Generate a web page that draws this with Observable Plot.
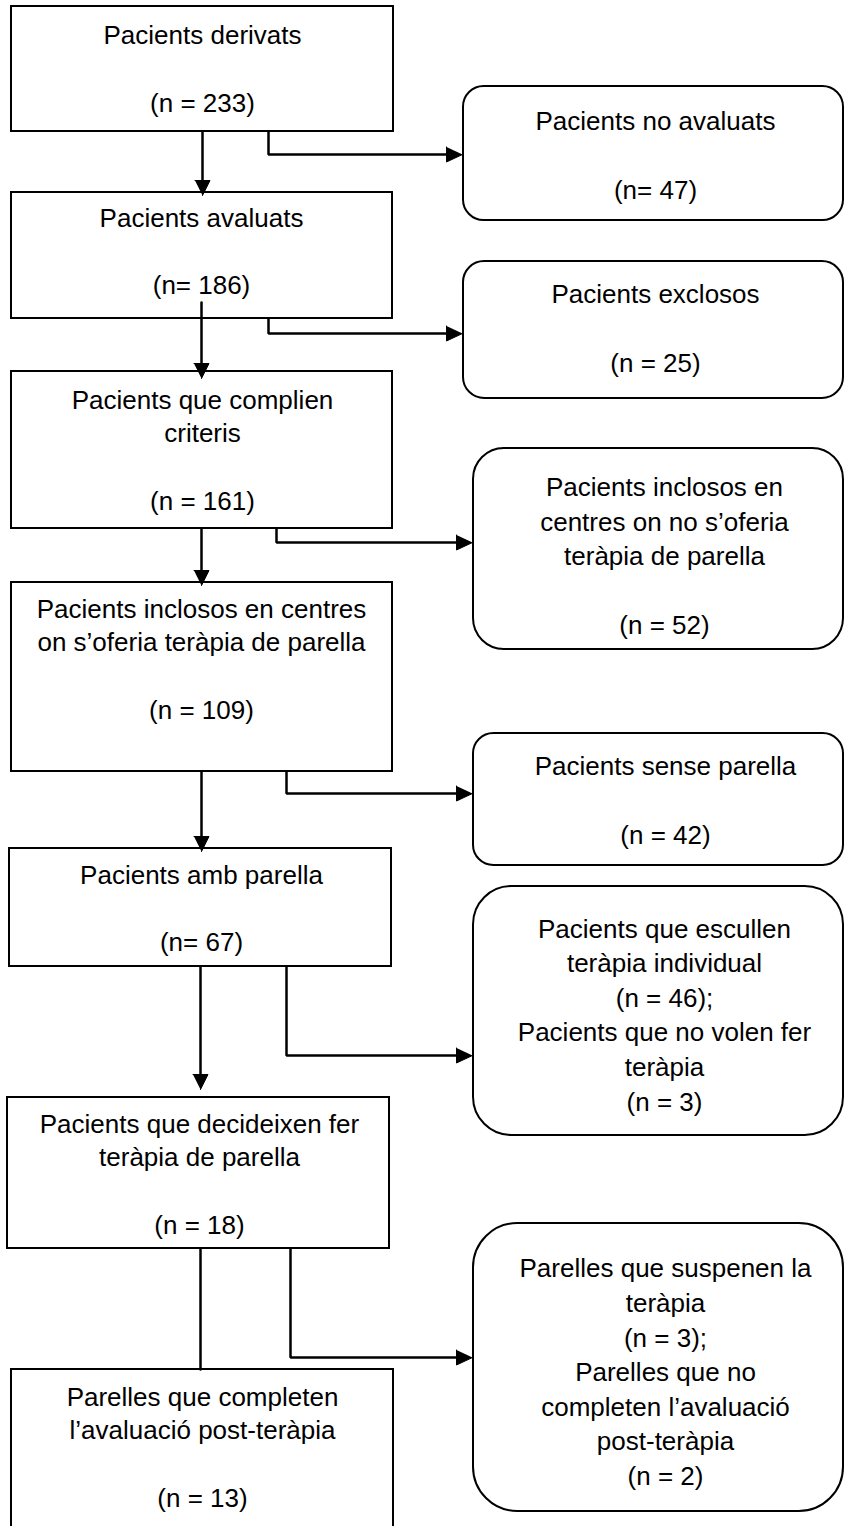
<!DOCTYPE html>
<html>
<head>
<meta charset="utf-8">
<script src="https://cdn.jsdelivr.net/npm/d3@7"></script>
<script src="https://cdn.jsdelivr.net/npm/@observablehq/plot@0.6"></script>
<style>
  html, body { margin: 0; padding: 0; background: #fff; }
  #chart svg { display: block; }
</style>
</head>
<body>
<div id="chart"></div>
<script>
// ---- Data: flow stages (left column) ----
const stageLabels = [
  "Pacients derivats",
  "Pacients avaluats",
  "Pacients que complien\ncriteris",
  "Pacients inclosos en centres\non s’oferia teràpia de parella",
  "Pacients amb parella",
  "Pacients que decideixen fer\nteràpia de parella",
  "Parelles que completen\nl’avaluació post-teràpia"
];
const stageN = [233, 186, 161, 109, 67, 18, 13];
const stageNPrefix = ["n = ", "n= ", "n = ", "n = ", "n= ", "n = ", "n = "];

// ---- Data: exclusions (right column) ----
const exclusionLabels = [
  "Pacients no avaluats\n\n(n= 47)",
  "Pacients exclosos\n\n(n = 25)",
  "Pacients inclosos en\ncentres on no s’oferia\nteràpia de parella\n\n(n = 52)",
  "Pacients sense parella\n\n(n = 42)",
  "Pacients que escullen\nteràpia individual\n(n = 46);\nPacients que no volen fer\nteràpia\n(n = 3)",
  "Parelles que suspenen la\nteràpia\n(n = 3);\nParelles que no\ncompleten l’avaluació\npost-teràpia\n(n = 2)"
];
const exclusionN = [47, 25, 52, 42, 49, 5];

// ---- Layout of the diagram (diagram units) ----
const stageX1 = [11, 11, 11, 11, 9, 7, 11];
const stageX2 = [393, 392, 392, 392, 391, 389, 393];
const stageY1 = [6, 192, 371, 582, 848, 1097, 1369];
const stageY2 = [131, 318, 528, 771, 966, 1248, 1545];
const stageTextX = [202, 201, 202, 201, 201, 199, 202];
const stageTextY = [66.5, 249, 448, 657, 906, 1172, 1445];

const exclX1 = [463, 463, 473, 473, 473, 473];
const exclX2 = [843, 843, 843, 843, 843, 843];
const exclY1 = [86, 261, 448, 733, 886, 1223];
const exclY2 = [220, 398, 649, 865, 1135, 1511];
const exclTextX = [655, 655, 664, 665, 664, 665];
const exclTextY = [152.5, 325.5, 553.5, 798, 1012.5, 1369.5];

const downX = [202, 201, 201, 201, 200, 200];
const downFromY = [131, 302, 528, 771, 966, 1248];
const downToY = [195, 378, 585, 851, 1089, 1369];
const downHasHead = [true, true, true, true, true, false];

const elbowX = [268, 268, 276, 286, 286, 290];
const elbowY = [154, 333, 542, 793, 1055, 1357];

// ---- Build tables ----
const stages = stageLabels.map((l, i) => ({
  x1: stageX1[i], x2: stageX2[i], y1: stageY1[i], y2: stageY2[i],
  tx: stageTextX[i], ty: stageTextY[i],
  text: l + "\n\n(" + stageNPrefix[i] + stageN[i] + ")"
}));
const exclusions = exclusionLabels.map((l, i) => ({
  x1: exclX1[i], x2: exclX2[i], y1: exclY1[i], y2: exclY2[i],
  tx: exclTextX[i], ty: exclTextY[i], text: l, n: exclusionN[i]
}));

const downLines = [];
downX.forEach((x, i) => {
  downLines.push({id: i, x, y: downFromY[i]});
  downLines.push({id: i, x, y: downHasHead[i] ? downToY[i] - 8 : downToY[i]});
});
const elbowLines = [];
elbowX.forEach((x, i) => {
  elbowLines.push({id: i, x, y: stageY2[i]});
  elbowLines.push({id: i, x, y: elbowY[i]});
  elbowLines.push({id: i, x: exclX1[i] - 8, y: elbowY[i]});
});
const heads = [];
downX.forEach((x, i) => {
  if (!downHasHead[i]) return;
  const t = downToY[i];
  heads.push({id: "d" + i, x: x - 7.5, y: t - 15});
  heads.push({id: "d" + i, x: x + 7.5, y: t - 15});
  heads.push({id: "d" + i, x: x, y: t});
});
elbowX.forEach((x, i) => {
  const t = exclX1[i] - 1, y = elbowY[i];
  heads.push({id: "e" + i, x: t - 16, y: y - 7.5});
  heads.push({id: "e" + i, x: t - 16, y: y + 7.5});
  heads.push({id: "e" + i, x: t, y: y});
});

const W = 845, H = 1526;
const font = "'Liberation Sans', Arial, Helvetica, sans-serif";

const roundedRects = exclusions.map(d => Plot.rect([d], {
  x1: "x1", x2: "x2", y1: "y1", y2: "y2",
  fill: "white", stroke: "black", strokeWidth: 2,
  rx: (d.y2 - d.y1) / 6.5, ry: (d.y2 - d.y1) / 6.5
}));

const chart = Plot.plot({
  width: W,
  height: H,
  margin: 0,
  x: {domain: [0, W], range: [0, W], axis: null},
  y: {domain: [0, H], range: [0, H], axis: null},
  style: {background: "white", fontFamily: font, fontSize: "26px", color: "black", overflow: "hidden"},
  marks: [
    Plot.rect(stages, {x1: "x1", x2: "x2", y1: "y1", y2: "y2", fill: "white", stroke: "black", strokeWidth: 2}),
    ...roundedRects,
    Plot.text(stages, {x: "tx", y: "ty", text: "text", fontSize: 26, lineHeight: 1.3, textAnchor: "middle", lineAnchor: "middle", fill: "black", fontFamily: font}),
    Plot.text(exclusions, {x: "tx", y: "ty", text: "text", fontSize: 26, lineHeight: 1.33, textAnchor: "middle", lineAnchor: "middle", fill: "black", fontFamily: font}),
    Plot.line(downLines, {x: "x", y: "y", z: "id", stroke: "black", strokeWidth: 2.5}),
    Plot.line(elbowLines, {x: "x", y: "y", z: "id", stroke: "black", strokeWidth: 2.5, strokeLinejoin: "miter"}),
    Plot.line(heads, {x: "x", y: "y", z: "id", fill: "black", stroke: "black", strokeWidth: 1, strokeLinejoin: "miter"})
  ]
});
document.getElementById("chart").appendChild(chart);
</script>
</body>
</html>
